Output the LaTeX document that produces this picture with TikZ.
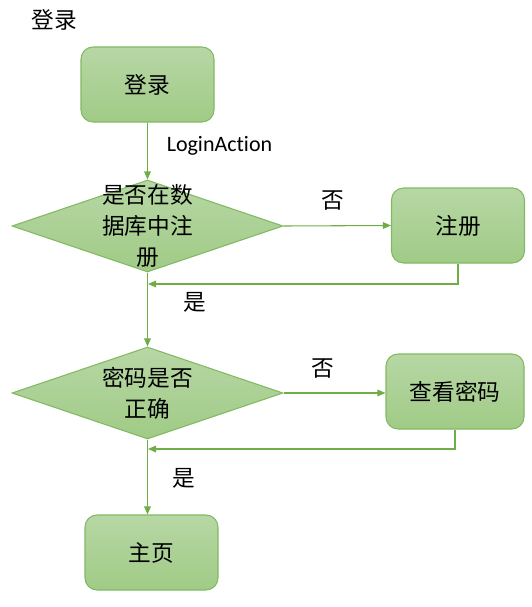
\documentclass[tikz,border=0pt]{standalone}
\usepackage{fontspec}
\setmainfont{Carlito}[Ligatures={NoCommon,NoRare}]
\newfontfamily\cjk{Noto Sans CJK SC}
\usetikzlibrary{shapes.geometric,arrows.meta}
\definecolor{lineg}{RGB}{112,173,71}
\definecolor{edgeg}{RGB}{130,185,98}
\definecolor{topg}{RGB}{183,215,165}
\definecolor{botg}{RGB}{160,203,134}
\tikzset{
	stepbox/.style={
		draw=edgeg, line width=0.8pt, rounded corners=9pt,
		top color=topg, bottom color=botg,
		minimum width=99.75pt, minimum height=56.25pt,
		font=\cjk\fontsize{17pt}{20pt}\selectfont},
	decision/.style={
		diamond, draw=edgeg, line width=0.8pt,
		top color=topg, bottom color=botg,
		minimum width=203.25pt, minimum height=69pt, inner sep=0pt},
	flow/.style={
		draw=lineg, line width=0.8pt,
		-{Triangle[length=6pt,width=5pt]}},
	cjktext/.style={font=\cjk\fontsize{17pt}{23pt}\selectfont, align=center}
}
\begin{document}
\begin{tikzpicture}[x=0.75pt,y=0.75pt,yscale=-1,xscale=1]
\useasboundingbox (0,0) rectangle (532,607);

% title
\node[cjktext] (title) at (54,20) {登录};

% boxes
\node[stepbox] (login) at (147.5,84.5) {登录};
\node[stepbox] (reg) at (458,225.5) {注册};
\node[stepbox, minimum width=103.5pt] (look) at (455,391.5) {查看密码};
\node[stepbox] (home) at (151.5,552.5) {主页};

% decisions
\node[decision] (indb) at (147.5,226) {};
\node[cjktext] (indbtxt) at (indb) {是否在数\\据库中注\\册};
\node[decision] (pwok) at (147.5,393) {};
\node[cjktext] (pwoktxt) at (pwok) {密码是否\\正确};

% return points
\coordinate (back1) at (148,284);
\coordinate (back2) at (148,449);

% connectors
\draw[flow] (login.south) -- (indb.north);
\draw[flow] (indb.east) -- (reg.west);
\draw[flow] (reg.south) |- (back1);
\draw[flow] (indb.south) -- (pwok.north);
\draw[flow] (pwok.east) -- (look.west |- pwok.east);
\draw[flow] (look.south) |- (back2);
\draw[flow] (pwok.south) -- (pwok.south |- home.north);

% labels
\node[font=\fontsize{16.5pt}{19pt}\selectfont] (act) at (219.5,146) {LoginAction};
\node[cjktext] (no1) at (333,201) {否};
\node[cjktext] (yes1) at (195,302) {是};
\node[cjktext] (no2) at (323,369) {否};
\node[cjktext] (yes2) at (184,478) {是};

\end{tikzpicture}
\end{document}
